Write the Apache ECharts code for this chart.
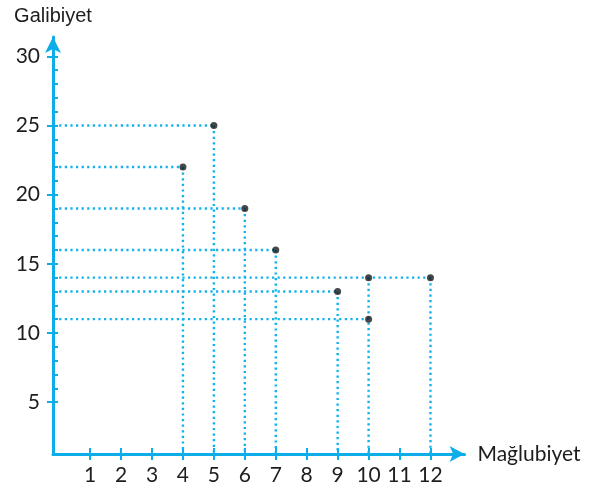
<!DOCTYPE html>
<html>
<head>
<meta charset="utf-8">
<script src="https://cdn.jsdelivr.net/npm/echarts@6/dist/echarts.min.js"></script>
<style>
  html, body { margin: 0; padding: 0; background: #fff; }
  #chart { width: 607px; height: 493px; }
</style>
</head>
<body>
<div id="chart"></div>
<script>
// Wins (Galibiyet) against losses (Mağlubiyet) for each team
const losses = [4, 5, 6, 7, 9, 10, 10, 12];
const wins   = [22, 25, 19, 16, 13, 14, 11, 14];

const xTickValues = [1, 2, 3, 4, 5, 6, 7, 8, 9, 10, 11, 12];
const yLabelValues = [5, 10, 15, 20, 25, 30];
const yMinorValues = [5, 6, 7, 8, 9, 10, 11, 12, 13, 14, 15, 16, 17, 18, 19, 20,
                      21, 22, 23, 24, 25, 26, 27, 28, 29, 30];

const xName = 'Mağlubiyet';
const yName = 'Galibiyet';

const X_MIN = -0.2, X_MAX = 13.1;
const Y_MIN = 1.25, Y_MAX = 31.4;

const AXIS_BLUE = '#0dadea';
const GUIDE_BLUE = '#12b2ec';
const TEXT = '#1e1c1d';

const points = losses.map((x, i) => [x, wins[i]]);

// Guide lines: one horizontal line per distinct win count (out to the
// furthest point on that row), one vertical line per distinct loss count
// (down from the highest point in that column).
const rows = {};
const cols = {};
points.forEach(([x, y]) => {
  rows[y] = Math.max(rows[y] ?? -Infinity, x);
  cols[x] = Math.max(cols[x] ?? -Infinity, y);
});
const guideStyle = {
  color: GUIDE_BLUE,
  width: 2.4,
  type: [2.2, 3.4],
  cap: 'butt'
};
const guideSeries = [];
Object.keys(rows).forEach(y => {
  guideSeries.push({
    type: 'line', symbol: 'none', silent: true, z: 1,
    lineStyle: guideStyle,
    data: [[0, +y], [rows[y], +y]]
  });
});
Object.keys(cols).forEach(x => {
  guideSeries.push({
    type: 'line', symbol: 'none', silent: true, z: 1,
    lineStyle: guideStyle,
    data: [[+x, cols[x]], [+x, Y_MIN]]
  });
});

const labelFont = { fontFamily: 'Lato', fontSize: 21, color: TEXT };

const option = {
  animation: false,
  grid: { left: 53, right: 142.5, top: 37, bottom: 39, containLabel: false },
  xAxis: [
    {
      type: 'value', min: X_MIN, max: X_MAX,
      name: xName, nameLocation: 'end', nameGap: 13,
      nameTextStyle: { fontFamily: 'Lato', fontSize: 21, color: TEXT, verticalAlign: 'middle' },
      axisLine: { show: true, onZero: false, symbol: ['none', 'arrow'], symbolSize: [12, 15],
                  lineStyle: { color: AXIS_BLUE, width: 3 } },
      axisTick: { show: true, inside: false, length: 6, customValues: xTickValues,
                  lineStyle: { color: AXIS_BLUE, width: 2 } },
      axisLabel: { show: true, margin: 11, customValues: xTickValues, ...labelFont },
      splitLine: { show: false }
    },
    {
      type: 'value', min: X_MIN, max: X_MAX, position: 'bottom', offset: 0,
      axisLine: { show: false, onZero: false },
      axisTick: { show: true, inside: true, length: 6, customValues: xTickValues,
                  lineStyle: { color: AXIS_BLUE, width: 2 } },
      axisLabel: { show: false },
      splitLine: { show: false }
    }
  ],
  yAxis: [
    {
      type: 'value', min: Y_MIN, max: Y_MAX,
      name: yName, nameLocation: 'end', nameGap: 11,
      nameTextStyle: { fontFamily: 'Liberation Sans', fontSize: 20, color: TEXT, align: 'center' },
      axisLine: { show: true, onZero: false, symbol: ['none', 'arrow'], symbolSize: [12, 16],
                  lineStyle: { color: AXIS_BLUE, width: 3 } },
      axisTick: { show: true, inside: false, length: 6, customValues: yLabelValues,
                  lineStyle: { color: AXIS_BLUE, width: 2 } },
      axisLabel: { show: true, margin: 13, customValues: yLabelValues, ...labelFont },
      splitLine: { show: false }
    },
    {
      type: 'value', min: Y_MIN, max: Y_MAX, position: 'left', offset: 0,
      axisLine: { show: false, onZero: false },
      axisTick: { show: true, inside: true, length: 5, customValues: yMinorValues,
                  lineStyle: { color: AXIS_BLUE, width: 2 } },
      axisLabel: { show: false },
      splitLine: { show: false }
    }
  ],
  series: [
    ...guideSeries,
    {
      type: 'scatter', z: 5,
      symbol: 'circle', symbolSize: 7,
      itemStyle: { color: '#1a1a1a' },
      data: points
    }
  ]
};

const chart = echarts.init(document.getElementById('chart'), null, { renderer: 'canvas' });
chart.setOption(option);
</script>
</body>
</html>
